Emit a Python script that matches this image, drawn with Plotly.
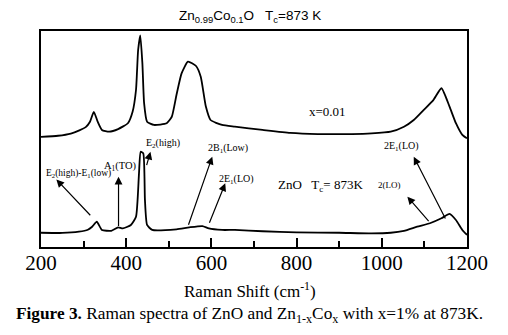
import plotly.graph_objects as go

# Top spectrum: Zn0.99Co0.01O (x=0.01)
top_shift = [200, 240, 270, 290, 305, 315, 324, 333, 343, 360, 381, 404, 415, 423, 428, 433, 438, 442, 449, 465,
             495, 507, 518, 530, 545, 564, 575, 587, 598, 625, 655, 720, 785, 850, 930, 976, 1021, 1052, 1075,
             1098, 1121, 1140, 1159, 1174, 1189, 1200]
top_int = [51, 51.5, 52.5, 54, 55.5, 58, 62.6, 58, 54.2, 53.4, 54.6, 57.3, 62.6, 72.7, 91.2, 98, 85, 66.7, 58, 56.5,
           57.3, 60.3, 70.4, 80.4, 85.8, 83.8, 78.8, 65, 58.8, 56.5, 55.7, 54.2, 52.8, 52.3, 52.3, 52.6, 53.4, 55.7,
           58.8, 63.4, 68, 73.5, 65, 57.3, 51.9, 50.3]

# Bottom spectrum: ZnO
zno_shift = [200, 250, 289, 310, 320, 331, 343, 365, 381, 392, 411, 423, 430, 434, 440, 444, 449, 461, 518, 548,
             579, 594, 625, 655, 720, 800, 900, 976, 1021, 1052, 1083, 1113, 1140, 1159, 1174, 1189, 1200]
zno_int = [6.6, 6.5, 7.1, 8, 9.4, 11.7, 7.9, 7.5, 9.1, 8.6, 10.2, 14, 34, 44.1, 43.4, 21.8, 10.2, 7.9, 8.2, 9.1,
           9.7, 8.6, 7.9, 7.9, 7.3, 6.8, 6.6, 6.3, 6.6, 7.5, 9.4, 11, 13.3, 15.3, 12.5, 7.9, 5.6]

x_ticks = [200, 400, 600, 800, 1000, 1200]

SERIF = "Liberation Serif"
SANS = "Liberation Sans"

fig = go.Figure()
for xs, ys in [(top_shift, top_int), (zno_shift, zno_int)]:
    fig.add_trace(go.Scatter(x=xs, y=ys, mode="lines",
                             line=dict(color="black", width=1.8, shape="spline", smoothing=0.5),
                             showlegend=False, hoverinfo="skip"))

ann = []
# arrows: (head_x, head_y, tail_x, tail_y)
arrows = [(236, 31.3, 319, 14.0), (382, 32.5, 382, 9.0), (457, 44.1, 447, 37.2), (602, 41.8, 545, 9.6),
          (632.5, 29.5, 594, 10.5), (1060, 23.3, 1113, 11.3), (1075, 41.8, 1151, 12.5)]
for hx, hy, tx, ty in arrows:
    ann.append(dict(x=hx, y=hy, ax=tx, ay=ty, xref="x", yref="y", axref="x", ayref="y", text="",
                    showarrow=True, arrowhead=2, arrowsize=1.3, arrowwidth=1.2, arrowcolor="black"))

labels = [(287, 33.8, "E<sub>2</sub>(high)-E<sub>1</sub>(low)", 9.5), (386, 37.3, "A<sub>1</sub>(TO)", 10.5),
          (486, 48, "E<sub>2</sub>(high)", 10), (639, 45.7, "2B<sub>1</sub>(Low)", 10),
          (660, 31.3, "2E<sub>1</sub>(LO)", 10), (857, 28.7, "ZnO   T<sub>c</sub>= 873K", 13),
          (1017, 28.7, "2(LO)", 9), (1047, 46.4, "2E<sub>1</sub>(LO)", 10), (873, 62.6, "x=0.01", 13)]
for lx, ly, t, s in labels:
    ann.append(dict(x=lx, y=ly, xref="x", yref="y", text=t, showarrow=False,
                    xanchor="center", yanchor="middle",
                    font=dict(family=SERIF, size=s, color="black")))

ann.append(dict(x=0.49, y=1.065, xref="paper", yref="paper", showarrow=False, xanchor="center", yanchor="middle",
                text="Zn<sub>0.99</sub>Co<sub>0.1</sub>O   T<sub>c</sub>=873 K",
                font=dict(family=SANS, size=13.5, color="black")))
ann.append(dict(x=0.49, y=-0.199, xref="paper", yref="paper", showarrow=False, xanchor="center", yanchor="middle",
                text="Raman Shift (cm<sup>-1</sup>)", font=dict(family=SERIF, size=17, color="black")))
ann.append(dict(x=0.49, y=-0.315, xref="paper", yref="paper", showarrow=False, xanchor="center", yanchor="middle",
                text="<b>Figure 3.</b> Raman spectra of ZnO and Zn<sub>1-x</sub>Co<sub>x</sub> with x=1% at 873K.",
                font=dict(family=SERIF, size=17.3, color="black")))

# the page body has a default 8px margin, so the figure is 16px smaller than the window
fig.update_layout(
    width=492, height=319, margin=dict(l=33, r=22, t=23, b=80),
    paper_bgcolor="white", plot_bgcolor="white",
    annotations=ann,
    xaxis=dict(range=[200, 1200], tickvals=x_ticks, ticktext=[str(v) for v in x_ticks],
               ticks="inside", ticklen=9, tickwidth=1.5, tickcolor="black",
               minor=dict(dtick=100, tick0=200, ticks="inside", ticklen=6, tickwidth=1.5, tickcolor="black"),
               showline=True, linecolor="black", linewidth=2, mirror=True, showgrid=False, zeroline=False,
               ticklabelstandoff=-4, ticklabeloverflow="allow",
               tickfont=dict(family=SERIF, size=21, color="black")),
    yaxis=dict(range=[0, 100], showticklabels=False, ticks="", showline=True, linecolor="black", linewidth=2,
               mirror=True, showgrid=False, zeroline=False),
)
fig.write_html("out.html")
